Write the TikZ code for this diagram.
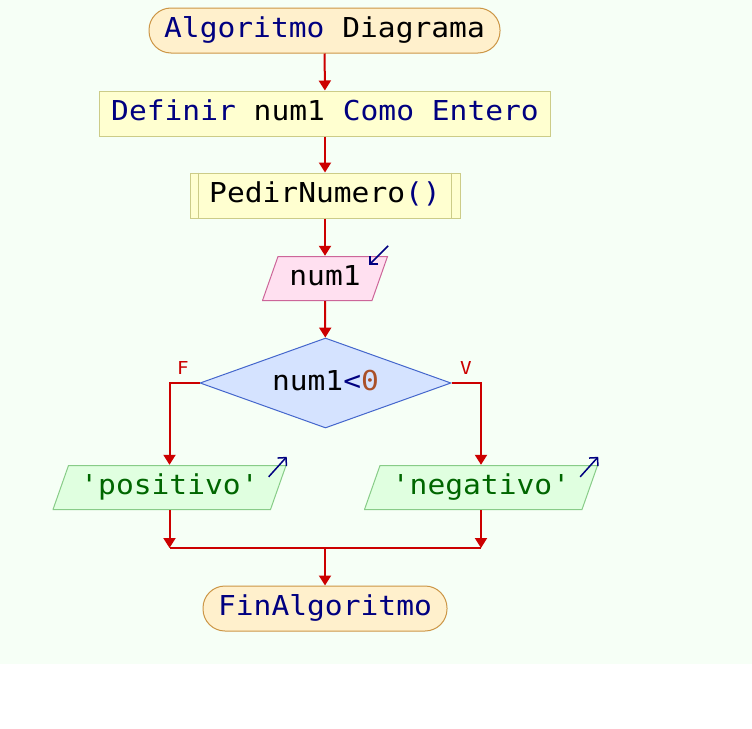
\documentclass[tikz,border=0pt]{standalone}
\usepackage{fontspec}
\setmonofont[FakeStretch=1.08]{DejaVu Sans Mono}
\usepackage{xcolor}
\definecolor{bgcol}{RGB}{246, 255, 246}
\definecolor{flowred}{RGB}{204, 0, 0}
\definecolor{kwblue}{RGB}{0, 0, 128}
\definecolor{numbrown}{RGB}{170, 80, 40}
\definecolor{strgreen}{RGB}{0, 102, 0}
\definecolor{termfill}{RGB}{255, 240, 204}
\definecolor{termborder}{RGB}{204, 150, 70}
\definecolor{procfill}{RGB}{255, 255, 208}
\definecolor{procborder}{RGB}{204, 204, 136}
\definecolor{infill}{RGB}{255, 224, 240}
\definecolor{inborder}{RGB}{204, 102, 153}
\definecolor{condfill}{RGB}{213, 227, 255}
\definecolor{condborder}{RGB}{68, 102, 204}
\definecolor{outfill}{RGB}{224, 255, 224}
\definecolor{outborder}{RGB}{136, 204, 136}
\usetikzlibrary{shapes.geometric,arrows.meta,calc}

\begin{document}
\begin{tikzpicture}[x=1pt, y=-1pt,
    every node/.style={font=\ttfamily\fontsize{27.4}{32}\selectfont, inner sep=0pt, text height=20pt, text depth=6pt},
    terminal/.style={draw=termborder, fill=termfill, rectangle, rounded corners=22pt, line width=1pt, minimum height=45pt},
    process/.style={draw=procborder, fill=procfill, rectangle, line width=1pt, minimum height=45pt},
    iobox/.style 2 args={rectangle, minimum height=45pt,
        path picture={\filldraw[fill=#1, draw=#2, line width=1pt]
            ([xshift=16pt, yshift=-0.5pt]path picture bounding box.north west) --
            ([xshift=-0.5pt, yshift=-0.5pt]path picture bounding box.north east) --
            ([xshift=-16pt, yshift=0.5pt]path picture bounding box.south east) --
            ([xshift=0.5pt, yshift=0.5pt]path picture bounding box.south west) -- cycle;}},
    decision/.style={draw=condborder, fill=condfill, diamond, aspect=2.8, line width=1pt, minimum width=251pt, minimum height=90pt},
    flow/.style={draw=flowred, line width=2pt, -{Triangle[width=12pt,length=10pt]}},
    branchlabel/.style={text=flowred, font=\ttfamily\fontsize{17.8}{20}\selectfont, text height=13pt, text depth=0pt},
    ioicon/.style={draw=kwblue, line width=1.5pt, -{Straight Barb[width=12pt,length=6pt]}}]

    % Background
    \fill[bgcol] (0, 0) rectangle (752, 664);
    \useasboundingbox (0, 0) rectangle (752, 728);

    % Flow blocks
    \node[terminal, minimum width=351pt] (start) at (324.5, 30.5) {\textcolor{kwblue}{Algoritmo} Diagrama};
    \node[process, minimum width=451pt] (define) at (325, 113.5) {\textcolor{kwblue}{Definir} num1 \textcolor{kwblue}{Como Entero}};
    \node[process, minimum width=270pt] (sub) at (325, 195.5) {PedirNumero\textcolor{kwblue}{()}};
    \draw[procborder, line width=1pt] ([xshift=9pt]sub.north west) -- ([xshift=9pt]sub.south west);
    \draw[procborder, line width=1pt] ([xshift=-9pt]sub.north east) -- ([xshift=-9pt]sub.south east);
    \node[iobox={infill}{inborder}, minimum width=126pt] (inp) at (325, 278.5) {num1};
    \node[decision] (cond) at (325.5, 383) {num1\textcolor{kwblue}{<}\textcolor{numbrown}{0}};
    \node[iobox={outfill}{outborder}, minimum width=234pt] (pos) at (169.5, 487.5) {\textcolor{strgreen}{'positivo'}};
    \node[iobox={outfill}{outborder}, minimum width=234pt] (neg) at (481, 487.5) {\textcolor{strgreen}{'negativo'}};
    \node[terminal, minimum width=244pt] (fin) at (325, 608.5) {\textcolor{kwblue}{FinAlgoritmo}};
    \coordinate (join) at (325, 548);

    % Branch labels
    \node[branchlabel] (lblF) at (183, 368) {F};
    \node[branchlabel] (lblV) at (466, 368) {V};

    % Read / write marks
    \draw[ioicon] ([yshift=10pt]inp.north east) -- ([xshift=-19pt, yshift=-9pt]inp.north east);
    \draw[ioicon] ([xshift=-18pt, yshift=-12pt]pos.north east) -- ([yshift=8pt]pos.north east);
    \draw[ioicon] ([xshift=-18pt, yshift=-12pt]neg.north east) -- ([yshift=8pt]neg.north east);

    % Arrows
    \draw[flow] (start) -- (define);
    \draw[flow] (define) -- (sub);
    \draw[flow] (sub) -- (inp);
    \draw[flow] (inp) -- (cond);
    \draw[flow] (cond.west) -| (pos.north);
    \draw[flow] (cond.east) -| (neg.north);
    \draw[flow] (pos.south) -- (pos.south |- join);
    \draw[flow] (neg.south) -- (neg.south |- join);
    \draw[flowred, line width=2pt] (pos.south |- join) -- (neg.south |- join);
    \draw[flow] (join) -- (fin);
\end{tikzpicture}
\end{document}
